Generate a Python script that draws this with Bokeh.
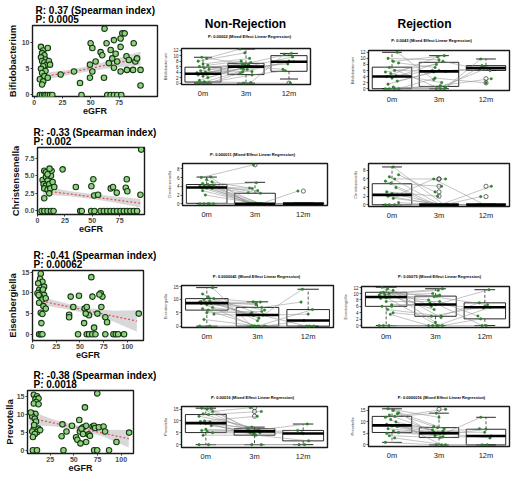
from bokeh.plotting import figure
from bokeh.layouts import column, row
from bokeh.models import Label, Range1d, FixedTicker, PrintfTickFormatter
from bokeh.embed import file_html
from bokeh.resources import INLINE

FONT = "Liberation Sans"

# ---------------- data ----------------
timepoints = ["0m", "3m", "12m"]
taxa = ["Bifidobacterium", "Christensenella", "Eisenbergiella", "Prevotella"]
r_texts = ["R: 0.37 (Spearman index)", "R: -0.33 (Spearman index)",
           "R: -0.41 (Spearman index)", "R: -0.38 (Spearman index)"]
p_texts = ["P: 0.0005", "P: 0.002", "P: 0.00062", "P: 0.0018"]
nr_pvals = ["P: 0.00002 (Mixed Effect Linear Regression)",
            "P: 0.000011 (Mixed Effect Linear Regression)",
            "P: 0.0000041 (Mixed Effect Linear Regression)",
            "P: 0.00016 (Mixed Effect Linear Regression)"]
rej_pvals = ["P: 0.0043 (Mixed Effect Linear Regression)",
             None,
             "P: 0.00075 (Mixed Effect Linear Regression)",
             "P: 0.0000016 (Mixed Effect Linear Regression)"]

# scatter: (eGFR, abundance)
bif_points = [(6, 9.2), (8, 8.5), (7, 8.0), (9, 7.6), (6, 7.2), (10, 6.8), (7, 6.5), (9, 6.2), (11, 5.8),
              (8, 5.5), (6, 5.0), (10, 4.6), (7, 4.2), (9, 3.6), (5, 3.0), (8, 2.6), (7, 2.0), (13, 6.5),
              (14, 5.8), (12, 9.0), (12, 3.3), (5, 0), (7, 0), (9, 0), (10, 0), (12, 0), (14, 0), (16, 0),
              (23.4, 3.9), (35.2, 4.5), (40.5, 2.3), (41.8, 0), (49.9, 9.9), (51.4, 9.0), (49.3, 5.8),
              (51.4, 4.5), (49.3, 3.3), (54.3, 6.4), (58.7, 8.2), (60.2, 7.6), (62.2, 12.7), (64, 9.9),
              (66, 6.1), (67.6, 8.6), (69, 7.0), (70.5, 10.5), (72, 7.9), (73.4, 6.4), (70.5, 5.2),
              (76.4, 10.8), (77.9, 11.8), (80, 11.8), (76.4, 9.2), (81.6, 7.4), (83.7, 6.7), (76.4, 4.5),
              (82, 4.8), (88, 9.9), (89.4, 6.4), (90.9, 7.0), (87.4, 4.8), (94, 4.8), (94, 1.8),
              (61.7, 3.3), (64.6, 0), (67.6, 0), (70.5, 0), (73.4, 0), (77, 0)]
bif_fit_x = [5, 30, 50, 70, 94]
bif_fit = [3.4, 4.3, 5.1, 6.0, 7.0]
bif_lo = [2.7, 3.8, 4.6, 5.2, 5.7]
bif_hi = [4.1, 4.8, 5.6, 6.8, 8.3]

chr_points = [(6.2, 5.7), (4.7, 4.4), (7.7, 4.8), (9.2, 4.3), (5.6, 3.8), (7.7, 3.6), (10.7, 3.8), (6.2, 3.2),
              (9.2, 3.0), (12.3, 5.0), (12.9, 5.7), (11.7, 3.2), (13.8, 4.1), (7.7, 5.5), (6.2, 1.8),
              (10.7, 2.5), (15.3, 3.4), (9.2, 5.2), (11, 6.0), (3.8, 0), (6.2, 0), (9.2, 0), (12.3, 0),
              (14.7, 0), (22.9, 5.9), (35, 3.4), (49.2, 3.5), (51, 4.5), (51.8, 2.2), (55.3, 2.3),
              (66.9, 3.2), (69, 3.4), (72.4, 2.6), (81.5, 4.5), (80.6, 3.3), (82, 2.8), (94, 2.3),
              (94.7, 8.7), (39, 0), (40.5, 0), (49, 0), (52, 0), (57.6, 0), (60.6, 0), (63.6, 0),
              (66.7, 0), (69.7, 0), (72.7, 0), (75.8, 0), (78.8, 0), (81.8, 0), (84.8, 0), (87.9, 0), (90.9, 0)]
chr_fit_x = [5, 30, 50, 70, 94]
chr_fit = [2.9, 2.4, 2.0, 1.6, 1.1]
chr_lo = [2.3, 2.1, 1.7, 1.2, 0.5]
chr_hi = [3.5, 2.8, 2.4, 2.1, 1.7]

eis_points = [(8.7, 14.6), (8.0, 13.4), (10.5, 12.7), (6.0, 12.3), (12.2, 11.5), (7.0, 10.7), (9.4, 10.3),
              (5.3, 9.9), (12.2, 9.5), (8.0, 9.1), (10.5, 8.4), (14, 8.7), (7, 7.6), (11.5, 6.8), (14, 6.2),
              (8.7, 5.2), (10.5, 4.9), (9.4, 2.7), (6.5, 9.5), (11, 10.8), (7, 0), (8.7, 0), (10.5, 0),
              (62, 13.8), (40.3, 9.1), (49, 9.3), (63.2, 9.1), (71.9, 9.9), (73.7, 9.1), (70.5, 9.6),
              (43, 6.6), (38.6, 4.7), (38.6, 4.1), (55, 6.2), (57.2, 6.6), (59.6, 4.6), (56.1, 5.0),
              (54.4, 2.7), (64.9, 1.6), (72.6, 6.6), (76.8, 4.1), (78.6, 2.9), (68.4, 5.0), (112, 5.0),
              (48, 0), (57.2, 0), (59.6, 0), (63, 0), (66.4, 0), (76.8, 0), (85.3, 0), (87.8, 0),
              (90.2, 0), (96.5, 0)]
eis_fit_x = [10, 35, 60, 85, 110]
eis_fit = [8.0, 6.8, 5.6, 4.4, 3.2]
eis_lo = [7.0, 6.1, 4.9, 3.1, 0.6]
eis_hi = [9.0, 7.5, 6.3, 5.7, 5.8]

pre_points = [(7.7, 15.4), (11, 15.0), (9.4, 14.2), (12.7, 14.4), (10, 13.4), (7.7, 13.0), (12.7, 12.8),
              (5.3, 10.3), (9.4, 10.1), (6, 9.4), (8.7, 8.8), (10, 8.0), (7.7, 6.0), (12.7, 6.0), (6, 5.2),
              (11, 5.0), (8.7, 4.5), (6.7, 3.7), (14.4, 5.6), (4.5, 10.5), (8, 7.0), (6.7, 0), (11, 0),
              (37.9, 7.2), (37, 3.9), (42.2, 5.2), (48, 6.8), (52.3, 3.6), (53.7, 2.9), (56.4, 5.2),
              (55.7, 8.4), (57, 1.9), (59.7, 6.4), (59.7, 4.5), (61.7, 11.9), (63, 6.8), (63, 2.3),
              (65.7, 4.4), (67, 4.0), (69.7, 6.6), (71.4, 6.8), (72.4, 6.2), (74.7, 15.8), (76.4, 6.4),
              (81.4, 6.6), (83, 5.2), (95, 2.3), (108.4, 4.9), (58, 6.0), (39, 0), (71.4, 0), (74.7, 0),
              (87.2, 0)]
pre_fit_x = [3, 30, 55, 80, 108]
pre_fit = [9.0, 7.5, 6.2, 4.8, 3.2]
pre_lo = [7.0, 6.6, 5.6, 3.9, 0.8]
pre_hi = [11.0, 8.4, 6.8, 5.7, 5.6]

# box panels: paired values per patient at 0m / 3m / 12m
bif_nr_0m = [0, 0, 0, 0, 0.5, 1, 2, 2.5, 3, 3.3, 3.5, 3.8, 4, 4.5, 5, 5.5, 6, 6.5, 7, 8, 9, 9.4]
bif_nr_3m = [0, 3, 5, 4, 0.2, 6, 5.5, 6, 7, 3.5, 6.5, 5, 4.2, 6.2, 7, 7.5, 6, 8, 9, 11, 12.4, 6.8]
bif_nr_12m = [0, 4.5, 7.8, 8, 10.5, 9.5, 7, 5, 10.8]
bif_nr_stats = dict(q1=[0.4, 3.1, 4.3], med=[3.4, 6.0, 7.8], q3=[5.8, 7.2, 10.0], lo=[0, 0, 1.5], hi=[9.4, 12.4, 10.8])

bif_r_0m = [0, 0, 0, 0, 0.5, 1.5, 2.5, 3.5, 4, 4.2, 5, 5.5, 6, 7, 8.5, 9, 10, 12]
bif_r_3m = [0, 0.5, 1, 3.5, 0, 6, 5.5, 9, 10.5, 6, 2, 8, 5.7, 0, 7, 10.9, 9.5, 3]
bif_r_12m = [6.8, 7.6, 3.3, 1.9, 9.8, 6, 7, 6.5]
bif_r_stats = dict(q1=[0, 0.75, 6.0], med=[4.0, 5.7, 6.8], q3=[7.1, 8.7, 7.6], lo=[0, 0, 6.0], hi=[12, 10.9, 9.8])

chr_nr_0m = [0, 0, 0, 0, 0, 3, 3.5, 3.6, 3.7, 3.8, 3.9, 4, 4.1, 4.2, 4.3, 4.4, 4.6, 5, 5.5, 6, 6.1, 2]
chr_nr_3m = [0, 0, 0, 0, 0, 0, 0, 0, 0, 2.5, 3, 3.5, 0, 4.8, 0, 2.4, 0, 3.6, 0, 8.9, 0, 0]
chr_nr_12m = [0, 0, 0, 0, 2.9, 0, 0, 0]
chr_nr_stats = dict(q1=[0.1, 0, 0], med=[3.7, 0, 0], q3=[4.4, 2.4, 0.2], lo=[0, 0, 0], hi=[6.1, 4.9, 0.2])

chr_r_0m = [0, 0, 0, 0.5, 1.5, 2, 2.3, 2.6, 3, 4, 5, 5.5, 6, 6.5, 7, 8.8]
chr_r_3m = [0, 0, 0, 0, 0, 0, 6, 0, 2.0, 0, 4.3, 0, 6, 0, 3, 0]
chr_r_12m = [0, 0, 4.3, 0, 1.9, 0, 0]
chr_r_stats = dict(q1=[0, 0, 0], med=[2.3, 0, 0], q3=[4.9, 0.2, 0.2], lo=[0, 0, 0], hi=[8.8, 0.2, 0.2])

eis_nr_0m = [0, 0, 2.5, 4.5, 6, 6.5, 7, 8, 8.5, 8.6, 8.8, 9, 9.5, 10, 10.3, 11, 12, 14.4, 5, 9.2]
eis_nr_3m = [0, 0, 0, 4, 4.2, 0, 5, 7, 8.5, 4.5, 9, 0, 6, 3, 9.1, 4.2, 2, 0, 5.5, 8]
eis_nr_12m = [0, 2.1, 0, 4.5, 13.8, 6.2, 0, 9]
eis_nr_stats = dict(q1=[6.0, 0, 0], med=[8.6, 4.2, 2.1], q3=[10.3, 7.0, 6.2], lo=[0, 0, 0], hi=[14.4, 9.1, 13.8])

eis_r_0m = [0, 0, 0, 4, 5, 6, 6.5, 7.5, 8.5, 8.9, 9, 9.5, 10, 10.4, 11, 11.5, 12, 6, 8.7, 10.2, 3.5, 9.8]
eis_r_3m = [0, 0, 0, 2.9, 3, 6.5, 6.6, 7.5, 9, 8, 0, 10, 11.5, 9.2, 6, 2.5, 1, 7, 9.5, 5, 0, 11]
eis_r_12m = [0, 2.1, 5.7, 6, 7.1, 11.2, 5.5, 3, 6.5, 0]
eis_r_stats = dict(q1=[6.0, 2.9, 2.1], med=[8.9, 6.6, 5.7], q3=[10.4, 9.2, 7.1], lo=[0, 0, 0], hi=[12, 11.5, 11.2])

pre_nr_0m = [0, 0, 4, 5, 5.5, 6, 8, 9, 9.1, 9.5, 10, 12, 12.7, 13, 14, 15, 15.4, 15.2, 6.5, 9.8]
pre_nr_3m = [0, 0, 4, 5, 5.5, 6, 5.6, 6.5, 5.2, 6.7, 12, 7.4, 14, 6, 15.6, 5, 4.5, 6.2, 5.8, 4.2]
pre_nr_12m = [0, 0, 1.6, 4.7, 6, 8.7, 5]
pre_nr_stats = dict(q1=[5.1, 4.0, 1.6], med=[9.1, 5.6, 4.7], q3=[12.7, 6.7, 6.0], lo=[0, 0, 0], hi=[15.4, 7.4, 8.7])

pre_r_0m = [1.1, 3, 4, 5.4, 6, 7, 8, 8.5, 9, 10, 11, 12, 12.4, 13, 14, 15, 15.7, 13.5, 8.2, 5]
pre_r_3m = [0, 0, 3.2, 4, 5, 5.1, 5.5, 6, 7.5, 6.5, 0, 13.8, 15.5, 5, 4.5, 7, 12, 8, 3.5, 5.2]
pre_r_12m = [0, 0, 3.9, 6.8, 12, 3, 5.5, 7]
pre_r_stats = dict(q1=[5.4, 3.2, 0], med=[8.5, 5.1, 3.9], q3=[12.4, 7.5, 6.8], lo=[1.1, 0, 0], hi=[15.7, 13.8, 12])

# ---------------- layout (pixel coordinates of the picture) ----------------
COLS = [(0, 160), (160, 340), (340, 511)]
ROWS = [(0, 118), (118, 236), (236, 362), (362, 475)]
BASELINE_FIX = 3  # labels render this many px below their anchor


def header_fig(col, rowb, fy0, texts):
    """A strip above a panel that carries its titles; its frame fills it (1 unit = 1 px)."""
    w = col[1] - col[0]
    h = fy0 - 1 - rowb[0]
    p = figure(width=w, height=h, output_backend="svg", toolbar_location=None,
               x_range=Range1d(0, w), y_range=Range1d(0, h),
               x_axis_location=None, y_axis_location=None, min_border=0)
    p.grid.visible = False
    p.outline_line_color = None
    p.border_fill_color = "white"
    p.background_fill_color = "white"
    for ix, iy, text, size, align in texts:
        p.add_layout(Label(x=ix - col[0], y=h - (iy - BASELINE_FIX - rowb[0]), text=text,
                           text_font=FONT, text_font_size=f"{size}px", text_font_style="bold",
                           text_align=align, text_baseline="alphabetic", text_color="black"))
    return p


def base_fig(frame, col, rowb, xr, yr):
    fx0, fy0, fx1, fy1 = frame
    p = figure(width=col[1] - col[0], height=rowb[1] - (fy0 - 1), output_backend="svg",
               toolbar_location=None, x_range=Range1d(*xr), y_range=Range1d(*yr),
               min_border_left=fx0 - col[0], min_border_right=col[1] - fx1,
               min_border_top=1, min_border_bottom=rowb[1] - fy1)
    p.grid.visible = False
    p.outline_line_color = "#1a1a1a"
    p.outline_line_width = 1.4
    p.border_fill_color = "white"
    p.background_fill_color = "white"
    return p


def scatter_panel(frame, col, rowb, xr, yr, xticks, yticks, pts, fx, fm, flo, fhi,
                  ylab, rtxt, ptxt, tx, yfmt=None, ylab_standoff=1):
    p = base_fig(frame, col, rowb, xr, yr)
    p.varea(x=fx, y1=flo, y2=fhi, fill_color="#a9a9a9", fill_alpha=0.45)
    p.line(x=fx, y=fm, line_color="#e8515d", line_dash="2 2", line_width=1.3)
    xs = [a for a, b in pts]
    ys = [b for a, b in pts]
    p.scatter(x=xs, y=ys, size=5.5, fill_color="#8fd27c", line_color="#173617", line_width=1.1)
    p.xaxis.ticker = FixedTicker(ticks=xticks)
    p.yaxis.ticker = FixedTicker(ticks=yticks)
    if yfmt:
        p.yaxis.formatter = PrintfTickFormatter(format=yfmt)
    for ax in [p.xaxis[0], p.yaxis[0]]:
        ax.axis_line_color = None
        ax.major_tick_in = 0
        ax.major_tick_out = 2
        ax.major_tick_line_color = "#333"
        ax.minor_tick_line_color = None
        ax.major_label_text_font = FONT
        ax.major_label_text_font_size = "7px"
        ax.major_label_text_font_style = "bold"
        ax.major_label_text_color = "#4a4a4a"
        ax.major_label_text_line_height = 1.0
        ax.major_label_standoff = 1
        ax.axis_label_text_font = FONT
        ax.axis_label_text_font_style = "bold"
        ax.axis_label_text_color = "#111"
        ax.axis_label_text_line_height = 1.0
    p.xaxis.axis_label = "eGFR"
    p.xaxis.axis_label_text_font_size = "9px"
    p.xaxis.axis_label_standoff = -2
    p.yaxis.axis_label = ylab
    p.yaxis.axis_label_text_font_size = "9.5px"
    p.yaxis.axis_label_standoff = ylab_standoff
    pbase = frame[1] - 3
    rbase = pbase - 9
    head = header_fig(col, rowb, frame[1], [(tx, rbase, rtxt, 10, "left"), (tx, pbase, ptxt, 10, "left")])
    return head, p


def jit(g, i):
    return g + ((i * 7 + g * 3) % 11 - 5) * 0.028


BOX_XR = (-0.5, 2.5)


def box_panel(frame, col, rowb, yr, yticks, vals, st, ylab, sub=None, sub_pos=None, head=None, head_pos=None):
    p = base_fig(frame, col, rowb, BOX_XR, yr)
    pos = list(range(len(timepoints)))
    p.vbar(x=pos, width=0.84, bottom=st["q1"], top=st["q3"], fill_color=None,
           line_color="#111", line_width=0.9)
    p.segment(x0=pos, y0=st["q3"], x1=pos, y1=st["hi"], line_color="#111", line_width=0.7, line_dash="3 2")
    p.segment(x0=pos, y0=st["q1"], x1=pos, y1=st["lo"], line_color="#111", line_width=0.7, line_dash="3 2")
    p.segment(x0=[g - 0.21 for g in pos], y0=st["hi"], x1=[g + 0.21 for g in pos], y1=st["hi"],
              line_color="#111", line_width=0.9)
    p.segment(x0=[g - 0.21 for g in pos], y0=st["lo"], x1=[g + 0.21 for g in pos], y1=st["lo"],
              line_color="#111", line_width=0.9)
    t0, t3, t12 = vals
    x0s, y0s, x1s, y1s = [], [], [], []
    for i in range(len(t3)):
        x0s.append(jit(0, i)); y0s.append(t0[i]); x1s.append(jit(1, i)); y1s.append(t3[i])
    for i in range(len(t12)):
        x0s.append(jit(1, i)); y0s.append(t3[i]); x1s.append(jit(2, i)); y1s.append(t12[i])
    p.segment(x0=x0s, y0=y0s, x1=x1s, y1=y1s, line_color="#8a8a8a", line_width=0.6, line_alpha=0.85)
    ox, oy = [], []
    for g, arr in enumerate(vals):
        for v in arr:
            if v > st["hi"][g] + 1e-9 or v < st["lo"][g] - 1e-9:
                ox.append(g); oy.append(v)
    p.scatter(x=ox, y=oy, size=4.2, fill_color=None, line_color="#333", line_width=0.7)
    px, py = [], []
    for g, arr in enumerate(vals):
        for i, v in enumerate(arr):
            px.append(jit(g, i)); py.append(v)
    p.scatter(x=px, y=py, size=2.6, fill_color="#2f8a2f", line_color="#1f6b1f", line_width=0.3)
    p.segment(x0=[g - 0.42 for g in pos], y0=st["med"], x1=[g + 0.42 for g in pos], y1=st["med"],
              line_color="black", line_width=2.6)
    p.xaxis.ticker = FixedTicker(ticks=pos)
    p.xaxis.major_label_overrides = {i: t for i, t in enumerate(timepoints)}
    p.yaxis.ticker = FixedTicker(ticks=yticks)
    for ax in [p.xaxis[0], p.yaxis[0]]:
        ax.axis_line_color = None
        ax.minor_tick_line_color = None
        ax.major_label_text_font = FONT
        ax.major_label_text_color = "#222"
    p.xaxis.major_tick_in = 0
    p.xaxis.major_tick_out = 0
    p.xaxis.major_label_text_font_size = "7.5px"
    p.xaxis.major_label_standoff = 4
    p.yaxis.major_tick_in = 0
    p.yaxis.major_tick_out = 2
    p.yaxis.major_tick_line_width = 0.6
    p.yaxis.major_label_text_font_size = "4.5px"
    p.yaxis.major_label_standoff = 1
    p.yaxis.axis_label = ylab
    p.yaxis.axis_label_text_font = FONT
    p.yaxis.axis_label_text_font_size = "4px"
    p.yaxis.axis_label_text_font_style = "normal"
    p.yaxis.axis_label_standoff = 2
    texts = []
    if sub:
        texts.append((sub_pos[0], sub_pos[1], sub, 4, "center"))
    if head:
        texts.append((head_pos[0], head_pos[1], head, 12, "center"))
    hdr = header_fig(col, rowb, frame[1], texts)
    return hdr, p


# ---------------- build ----------------
s1 = scatter_panel((32, 25, 157, 96), COLS[0], ROWS[0], (-1.5, 109), (-0.3, 13.3), [0, 25, 50, 75], [0, 5, 10],
                   bif_points, bif_fit_x, bif_fit, bif_lo, bif_hi, taxa[0], r_texts[0], p_texts[0], 35)
n1 = box_panel((178, 48, 310, 84), COLS[1], ROWS[0], (-0.5, 12.6), [0, 2, 4, 6, 8, 10, 12],
               (bif_nr_0m, bif_nr_3m, bif_nr_12m), bif_nr_stats, taxa[0], nr_pvals[0], (249, 39),
               "Non-Rejection", (245, 26))
r1 = box_panel((368, 50, 509, 90), COLS[2], ROWS[0], (-0.6, 12.6), [0, 2, 4, 6, 8, 10, 12],
               (bif_r_0m, bif_r_3m, bif_r_12m), bif_r_stats, taxa[0], rej_pvals[0], (431, 43),
               "Rejection", (424, 26))

s2 = scatter_panel((37, 147, 144, 217), COLS[0], ROWS[1], (0, 97.7), (-0.5, 9.0), [0, 25, 50, 75],
                   [0, 2.5, 5, 7.5], chr_points, chr_fit_x, chr_fit, chr_lo, chr_hi, taxa[1], r_texts[1],
                   p_texts[1], 33, yfmt="%.1f")
n2 = box_panel((182, 163, 327, 205), COLS[1], ROWS[1], (-0.4, 9.2), [0, 2, 4, 6, 8],
               (chr_nr_0m, chr_nr_3m, chr_nr_12m), chr_nr_stats, taxa[1], nr_pvals[1], (252, 157))
r2 = box_panel((368, 163, 509, 206), COLS[2], ROWS[1], (-0.4, 9.6), [0, 2, 4, 6, 8],
               (chr_r_0m, chr_r_3m, chr_r_12m), chr_r_stats, taxa[1])

s3 = scatter_panel((32, 270, 143, 342), COLS[0], ROWS[2], (0, 117), (-1.5, 15.4), [0, 25, 50, 75, 100],
                   [0, 5, 10, 15], eis_points, eis_fit_x, eis_fit, eis_lo, eis_hi, taxa[2], r_texts[2],
                   p_texts[2], 33)
n3 = box_panel((180, 285, 333, 327), COLS[1], ROWS[2], (-0.5, 15.2), [0, 5, 10, 15],
               (eis_nr_0m, eis_nr_3m, eis_nr_12m), eis_nr_stats, taxa[2], nr_pvals[2], (256, 279))
r3 = box_panel((357, 286, 509, 327), COLS[2], ROWS[2], (-0.6, 12.2), [0, 2, 4, 6, 8, 10, 12],
               (eis_r_0m, eis_r_3m, eis_r_12m), eis_r_stats, taxa[2], rej_pvals[2], (439, 279))

s4 = scatter_panel((22, 390, 133, 459), COLS[0], ROWS[3], (1, 113), (-0.9, 16.6), [0, 25, 50, 75, 100],
                   [0, 5, 10, 15], pre_points, pre_fit_x, pre_fit, pre_lo, pre_hi, taxa[3], r_texts[3],
                   p_texts[3], 33, ylab_standoff=-1)
n4 = box_panel((177, 406, 327, 447), COLS[1], ROWS[3], (-1.2, 16.1), [0, 5, 10, 15],
               (pre_nr_0m, pre_nr_3m, pre_nr_12m), pre_nr_stats, taxa[3], nr_pvals[3], (252, 400))
r4 = box_panel((368, 406, 509, 446), COLS[2], ROWS[3], (-0.7, 16.7), [0, 5, 10, 15],
               (pre_r_0m, pre_r_3m, pre_r_12m), pre_r_stats, taxa[3], rej_pvals[3], (441, 400))

grid = [[s1, n1, r1], [s2, n2, r2], [s3, n3, r3], [s4, n4, r4]]
layout = column(*[row(*[column(column(h), column(f)) for h, f in frow]) for frow in grid])

open("out.html", "w").write(file_html(layout, INLINE))
